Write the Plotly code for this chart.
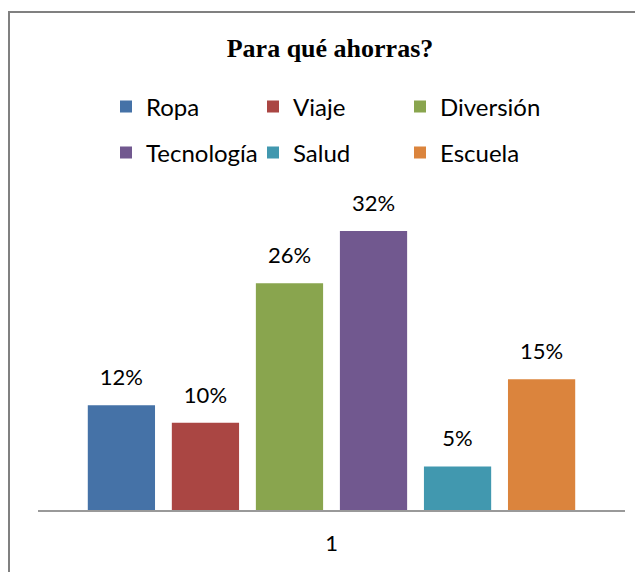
import plotly.graph_objects as go

# chart data
categories = ["1"]
series_names = ["Ropa", "Viaje", "Diversión", "Tecnología", "Salud", "Escuela"]
series_values = [12, 10, 26, 32, 5, 15]
series_colors = ["#4572A7", "#AA4643", "#89A54E", "#71588F", "#4198AF", "#DB843D"]

label_font = dict(family="Lato, Carlito, Calibri, sans-serif", size=22, color="#000000")
legend_font = dict(family="Lato, Carlito, Calibri, sans-serif", size=24, color="#000000")

# the page body adds an 8px margin, so the figure is 8px smaller each way
W, H = 635, 564

fig = go.Figure()

# bars, first three in the top legend row, last three in the second row
for i, (name, val, col) in enumerate(zip(series_names, series_values, series_colors)):
    fig.add_trace(go.Bar(
        x=categories, y=[val], name=name,
        marker=dict(color=col, line=dict(width=0)),
        legend="legend" if i < 3 else "legend2",
        hoverinfo="skip",
    ))

# percentage labels above bars, grouped the same way as the bars
for name, val in zip(series_names, series_values):
    fig.add_trace(go.Scatter(
        x=categories, y=[val], mode="markers+text",
        text=[f"{val}%"], textposition="top center",
        textfont=label_font,
        marker=dict(size=22, opacity=0),
        showlegend=False, hoverinfo="skip", cliponaxis=False,
    ))

fig.update_layout(
    width=W, height=H,
    margin=dict(l=30, r=18, t=182, b=62),
    paper_bgcolor="white", plot_bgcolor="white",
    barmode="group", bargap=0.141, bargroupgap=0.2,
    scattermode="group", scattergap=0.141,
    title=dict(
        text="<b>Para qué ahorras?</b>",
        font=dict(family="Liberation Serif, Times New Roman, serif", size=26, color="#000000"),
        x=322 / W, xanchor="center", xref="container",
        y=1 - 40 / H, yanchor="middle", yref="container",
    ),
    legend=dict(
        orientation="h", xref="container", yref="container",
        x=98 / W, xanchor="left", y=1 - 99 / H, yanchor="middle",
        entrywidth=102, font=legend_font, bgcolor="rgba(0,0,0,0)",
        traceorder="normal",
    ),
    legend2=dict(
        orientation="h", xref="container", yref="container",
        x=98 / W, xanchor="left", y=1 - 145 / H, yanchor="middle",
        entrywidth=102, font=legend_font, bgcolor="rgba(0,0,0,0)",
        traceorder="normal",
    ),
    xaxis=dict(
        type="category", showline=True, linecolor="#999999", linewidth=2,
        showgrid=False, ticks="", tickfont=label_font, ticklabelstandoff=13,
    ),
    yaxis=dict(
        range=[0, 36.7], showticklabels=False, showgrid=False,
        zeroline=False, showline=False,
    ),
    showlegend=True,
)

# chart frame (its right and bottom edges run off the picture)
fig.add_shape(
    type="rect", xref="paper", yref="paper",
    x0=-29 / 587, x1=1.2, y0=-0.4, y1=498 / 320,
    line=dict(color="#808080", width=2), fillcolor="rgba(0,0,0,0)",
    layer="below",
)

fig.write_html("out.html")
